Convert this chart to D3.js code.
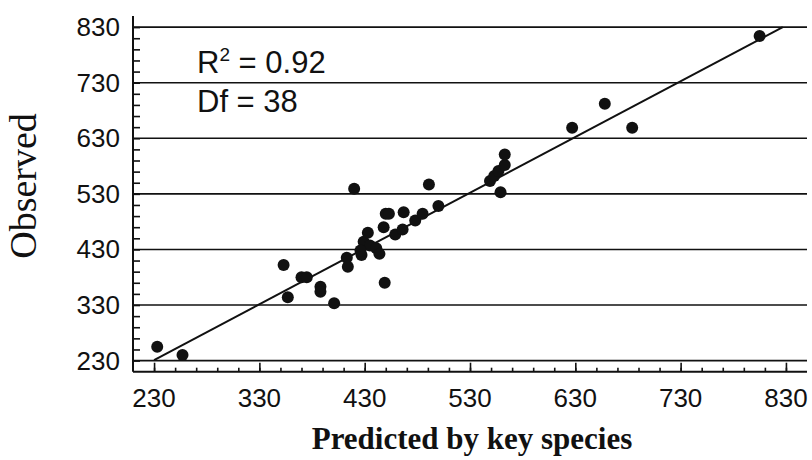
<!DOCTYPE html>
<html>
<head>
<meta charset="utf-8">
<script src="https://cdn.jsdelivr.net/npm/d3@7"></script>
<style>
  html, body { margin: 0; padding: 0; background: #fff; }
  svg { display: block; }
</style>
</head>
<body>
<svg id="chart" width="812" height="460"></svg>
<script>
// Predicted (key species model) vs observed values
const predicted = [233, 257, 353, 357, 370, 375, 388, 388, 401, 413,
                   414, 449, 420, 427, 429, 433, 435, 441, 444, 448,
                   450, 453, 459, 466, 467, 478, 485, 491, 500, 549,
                   553, 557, 563, 563, 559, 627, 658, 684, 805, 426];
const observed  = [255, 240, 402, 344, 380, 380, 363, 354, 333, 415,
                   399, 370, 539, 420, 444, 460, 437, 432, 422, 470,
                   494, 494, 457, 466, 497, 482, 494, 547, 508, 553,
                   562, 571, 582, 601, 533, 649, 692, 649, 814, 428];

// Fitted line end points
const fitX = [230, 827];
const fitY = [231, 830];

const tickValues = [230, 330, 430, 530, 630, 730, 830];
const minorTicks = d3.range(230, 831, 20);
const domain = [210, 850];

const svg = d3.select("#chart");
const plotLeft = 133, plotRight = 807, plotTop = 16, plotBottom = 371.7;

const x = d3.scaleLinear().domain(domain).range([plotLeft, plotRight]);
const y = d3.scaleLinear().domain(domain).range([plotBottom, plotTop]);

// Horizontal grid lines at the labelled values
svg.append("g")
  .selectAll("line")
  .data(tickValues)
  .join("line")
  .attr("x1", plotLeft).attr("x2", plotRight)
  .attr("y1", d => y(d)).attr("y2", d => y(d))
  .attr("stroke", "#111").attr("stroke-width", 1.6);

// X axis: inward ticks, longer at labelled values
const xAxis = svg.append("g").attr("transform", `translate(0,${plotBottom})`);
xAxis.call(d3.axisTop(x).tickValues(minorTicks).tickSize(4).tickFormat(""))
  .call(g => g.select(".domain").remove());
xAxis.append("g").call(d3.axisTop(x).tickValues(tickValues).tickSize(9).tickFormat(""))
  .call(g => g.select(".domain").remove());
xAxis.selectAll(".tick line").attr("stroke", "#111").attr("stroke-width", 1.6);
xAxis.append("line").attr("x1", plotLeft).attr("x2", plotRight)
  .attr("stroke", "#111").attr("stroke-width", 2);
xAxis.append("g")
  .selectAll("text")
  .data(tickValues)
  .join("text")
  .attr("x", d => x(d)).attr("y", 35)
  .attr("text-anchor", "middle")
  .attr("font-family", "Liberation Sans, Arial, sans-serif")
  .attr("font-size", 26)
  .attr("fill", "#111")
  .text(d => d);

// Y axis: inward ticks
const yAxis = svg.append("g").attr("transform", `translate(${plotLeft},0)`);
yAxis.call(d3.axisRight(y).tickValues(minorTicks).tickSize(7).tickFormat(""))
  .call(g => g.select(".domain").remove());
yAxis.selectAll(".tick line").attr("stroke", "#111").attr("stroke-width", 1.6);
yAxis.append("line").attr("y1", plotTop).attr("y2", plotBottom)
  .attr("stroke", "#111").attr("stroke-width", 2);
yAxis.append("g")
  .selectAll("text")
  .data(tickValues)
  .join("text")
  .attr("x", -13).attr("y", d => y(d) + 9)
  .attr("text-anchor", "end")
  .attr("font-family", "Liberation Sans, Arial, sans-serif")
  .attr("font-size", 26)
  .attr("fill", "#111")
  .text(d => d);

// Fitted regression line
svg.append("line")
  .attr("x1", x(fitX[0])).attr("y1", y(fitY[0]))
  .attr("x2", x(fitX[1])).attr("y2", y(fitY[1]))
  .attr("stroke", "#111").attr("stroke-width", 2);

// Data points
svg.append("g")
  .selectAll("circle")
  .data(predicted.map((p, i) => [p, observed[i]]))
  .join("circle")
  .attr("cx", d => x(d[0])).attr("cy", d => y(d[1]))
  .attr("r", 6)
  .attr("fill", "#111");

// Fit statistics
const stats = svg.append("g")
  .attr("font-family", "Liberation Sans, Arial, sans-serif")
  .attr("font-size", 31)
  .attr("fill", "#111");
const r2 = stats.append("text").attr("x", 197).attr("y", 73);
r2.append("tspan").text("R");
r2.append("tspan").attr("font-size", 19).attr("dy", -12).text("2");
r2.append("tspan").attr("dy", 12).text(" = 0.92");
stats.append("text").attr("x", 197).attr("y", 112).text("Df = 38");

// Axis titles
svg.append("text")
  .attr("x", 472).attr("y", 449)
  .attr("text-anchor", "middle")
  .attr("font-family", "Liberation Serif, Times New Roman, serif")
  .attr("font-weight", "bold")
  .attr("font-size", 31)
  .attr("fill", "#111")
  .text("Predicted by key species");

svg.append("text")
  .attr("transform", "translate(36,186) rotate(-90)")
  .attr("text-anchor", "middle")
  .attr("font-family", "Liberation Serif, Times New Roman, serif")
  .attr("font-size", 38)
  .attr("fill", "#111")
  .text("Observed");
</script>
</body>
</html>
